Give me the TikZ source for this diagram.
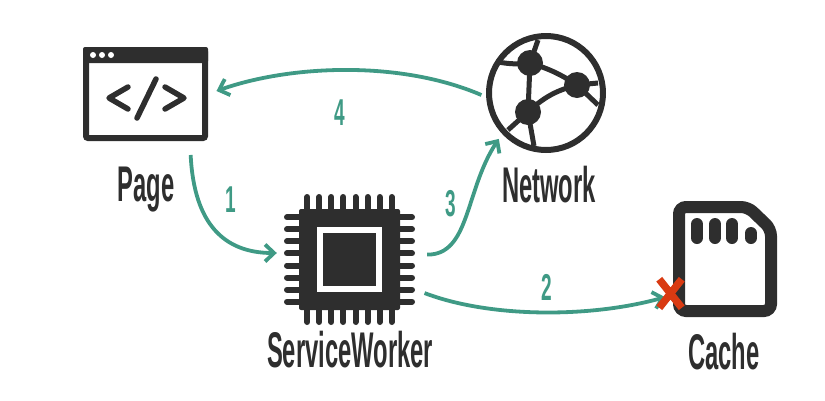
\documentclass[tikz,border=0pt]{standalone}
\usepackage{fontspec}
\setmainfont{Liberation Sans}
\usetikzlibrary{arrows.meta,shapes.misc}
\definecolor{icondark}{HTML}{2E2E2E}
\definecolor{flowteal}{HTML}{3F9A85}
\definecolor{missred}{HTML}{D93A12}

\begin{document}
\begin{tikzpicture}[
  x=1pt,
  y=-1pt,
  icon/.style={
    draw=icondark,
    line width=6pt,
    inner sep=0pt
  },
  iconlabel/.style={
    text=icondark,
    inner sep=0pt,
    xscale=.54,
    yscale=1.14,
    font=\fontsize{44}{44}\selectfont\bfseries
  },
  stepnum/.style={
    text=flowteal,
    inner sep=0pt,
    xscale=.56,
    yscale=1.1,
    font=\fontsize{34}{34}\selectfont\bfseries
  },
  flow/.style={
    draw=flowteal,
    line width=3.8pt,
    -{Straight Barb[length=9pt,width=17pt]}
  },
  pin/.style={icondark, line width=6pt, line cap=round},
  code/.style={icondark, line width=5.5pt, line cap=round, line join=round},
  wire/.style={icondark, line width=5pt}
]
\useasboundingbox (0,0) rectangle (825,400);

% Page
\node[icon, rounded corners=2pt, minimum width=119pt, minimum height=88pt] (page) at (145.5,94) {};
\fill[icondark, rounded corners=2pt] (page.north west) rectangle ([yshift=-16pt]page.north east);
\foreach \x in {93,102,111} {
  \fill[white] (\x,55) circle (3pt);
}
\draw[code] (128,87) -- (109,98) -- (128,109);
\draw[code] (165,87) -- (184,98) -- (165,109);
\draw[code] (156,79) -- (137,118);
\node[iconlabel] (pagename) at (146,190) {Page};

% Network
\node[icon, circle, minimum size=114pt] (network) at (546,93) {};
\fill[icondark] (530,63) circle (13pt) (577,85) circle (13pt) (528,112) circle (13pt);
\draw[wire] (530,63) -- (538,40);
\draw[wire] (530,63) to[bend left=8] (498,62);
\draw[wire] (530,63) -- (528,112);
\draw[wire] (530,63) to[bend left=8] (577,85);
\draw[wire] (528,112) to[bend left=14] (577,85);
\draw[wire] (577,85) -- (598,83);
\draw[wire] (577,85) -- (598,105);
\draw[wire] (528,112) -- (508,130);
\draw[wire] (528,112) -- (534,146);
\node[iconlabel] (networkname) at (549,185) {Network};

% ServiceWorker
\foreach \i in {0,...,7} {
  \draw[pin] (307.3+12.05*\i,197) -- (307.3+12.05*\i,322);
  \draw[pin] (287,217.3+12.05*\i) -- (412,217.3+12.05*\i);
}
\node[fill=icondark, rounded corners=2pt, minimum size=101pt, inner sep=0pt] (worker) at (349.5,259.5) {};
\node[draw=white, line width=6pt, minimum size=59pt, inner sep=0pt] (core) at (349.5,259.5) {};
\node[iconlabel] (workername) at (350,350) {ServiceWorker};

% Cache
\node[minimum width=104pt, minimum height=116pt, inner sep=0pt] (cache) at (725,259) {};
\draw[icondark, line width=12pt, rounded corners=7pt]
  (679,207) -- (748,207) -- (771,229) -- (771,311) -- (679,311) -- cycle;
\foreach \x in {697,715,732} {
  \draw[icondark, line width=12pt, line cap=round] (\x,224) -- (\x,238);
}
\draw[icondark, line width=12pt, line cap=round] (751,233) -- (751,238);
\node[iconlabel] (cachename) at (724,352) {Cache};

% Flow arrows
\draw[flow, shorten <=14pt, shorten >=7pt] ([xshift=44.5pt]page.south)
  .. controls (194,225) and (225,253) .. ([xshift=-15pt,yshift=6.5pt]worker.west);
\draw[flow, shorten <=12pt, shorten >=6pt] ([yshift=5pt,xshift=15pt]worker.east)
  .. controls (470,255) and (465,190) .. (network.223);
\draw[flow, shorten <=5pt, shorten >=9pt] ([yshift=-4pt]network.west)
  .. controls (400,60) and (290,65) .. (page.east);
\draw[flow, shorten <=10pt, shorten >=8pt] ([yshift=-30pt,xshift=15pt]worker.east)
  .. controls (490,318) and (590,318) .. ([yshift=-36pt]cache.west);

% Miss marker
\node[cross out, draw=missred, line width=7.5pt, minimum width=15pt, minimum height=21pt, inner sep=0pt] (miss) at (670.5,293.5) {};

% Step numbers
\node[stepnum] (one) at (231,200) {1};
\node[stepnum] (two) at (547,287) {2};
\node[stepnum] (three) at (451,204) {3};
\node[stepnum] (four) at (340,113) {4};

\end{tikzpicture}
\end{document}
